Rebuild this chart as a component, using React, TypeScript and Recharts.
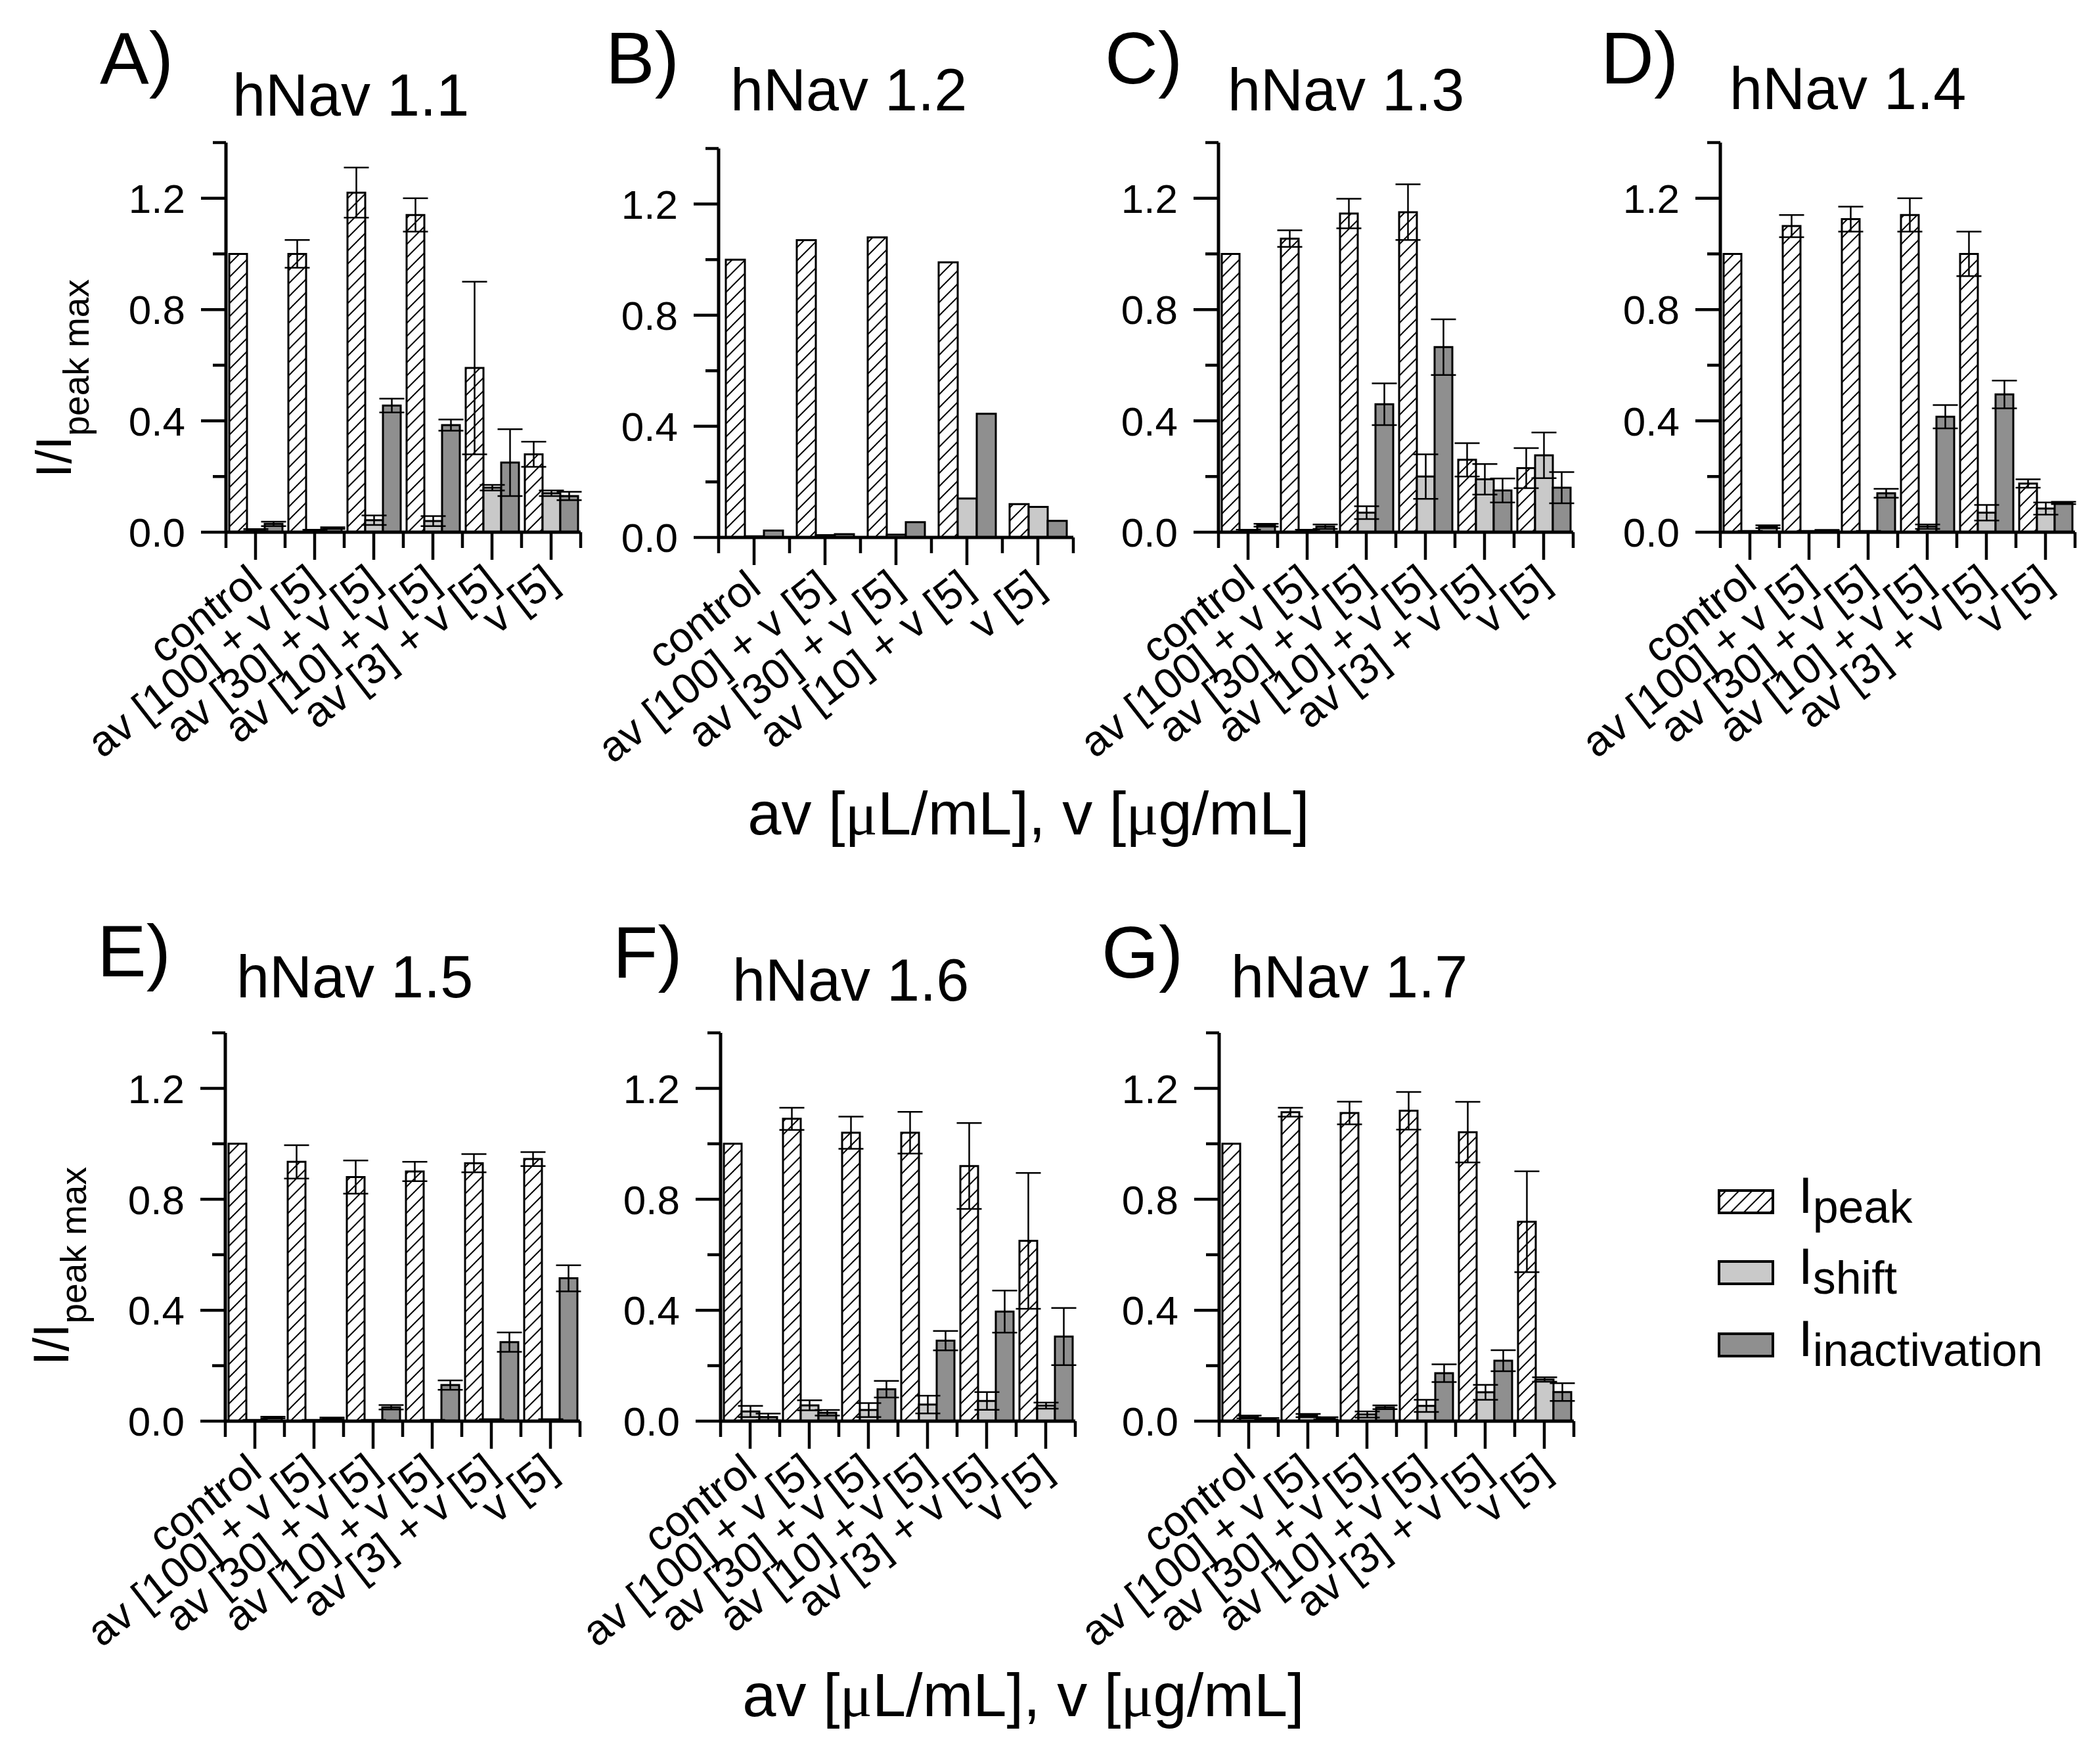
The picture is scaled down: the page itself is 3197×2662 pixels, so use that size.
import React from "react";
import { BarChart, Bar, XAxis, YAxis, ErrorBar } from "recharts";

const FONT = "'Liberation Sans', Arial, Helvetica, sans-serif";

// categories
const CATS6 = ["control", "av [100] + v [5]", "av [30] + v [5]", "av [10] + v [5]", "av [3] + v [5]", "v [5]"];
const CATS5 = ["control", "av [100] + v [5]", "av [30] + v [5]", "av [10] + v [5]", "v [5]"];
const Y_TICKS = [0, 0.2, 0.4, 0.6, 0.8, 1.0, 1.2, 1.4];

// hNav 1.1
const nav11Peak = [1.0, 1.0, 1.22, 1.14, 0.59, 0.28];
const nav11PeakErr = [0, 0.05, 0.09, 0.06, 0.31, 0.045];
const nav11Shift = [0.008, 0.006, 0.043, 0.04, 0.16, 0.14];
const nav11ShiftErr = [0.003, 0.003, 0.017, 0.018, 0.01, 0.01];
const nav11Inact = [0.03, 0.015, 0.455, 0.385, 0.25, 0.13];
const nav11InactErr = [0.008, 0.003, 0.025, 0.02, 0.12, 0.015];

// hNav 1.2 (no error bars)
const nav12Peak = [1.0, 1.07, 1.08, 0.99, 0.12];
const nav12Shift = [0.004, 0.008, 0.01, 0.14, 0.11];
const nav12Inact = [0.025, 0.012, 0.055, 0.445, 0.06];

// hNav 1.3
const nav13Peak = [1.0, 1.055, 1.145, 1.15, 0.26, 0.23];
const nav13PeakErr = [0, 0.03, 0.053, 0.1, 0.06, 0.072];
const nav13Shift = [0.005, 0.005, 0.07, 0.2, 0.19, 0.276];
const nav13ShiftErr = [0.004, 0.004, 0.023, 0.08, 0.055, 0.082];
const nav13Inact = [0.025, 0.02, 0.46, 0.665, 0.15, 0.16];
const nav13InactErr = [0.005, 0.008, 0.075, 0.1, 0.043, 0.056];

// hNav 1.4
const nav14Peak = [1.0, 1.1, 1.125, 1.14, 1.0, 0.175];
const nav14PeakErr = [0, 0.04, 0.045, 0.06, 0.08, 0.015];
const nav14Shift = [0.003, 0.003, 0.003, 0.02, 0.07, 0.085];
const nav14ShiftErr = [0.002, 0.002, 0.002, 0.008, 0.028, 0.022];
const nav14Inact = [0.02, 0.006, 0.14, 0.415, 0.495, 0.105];
const nav14InactErr = [0.005, 0.002, 0.016, 0.042, 0.05, 0.004];

// hNav 1.5
const nav15Peak = [1.0, 0.935, 0.88, 0.9, 0.93, 0.945];
const nav15PeakErr = [0, 0.06, 0.06, 0.035, 0.033, 0.025];
const nav15Shift = [0.003, 0.003, 0.003, 0.003, 0.005, 0.005];
const nav15ShiftErr = [0.002, 0.002, 0.002, 0.002, 0.002, 0.002];
const nav15Inact = [0.013, 0.01, 0.05, 0.13, 0.285, 0.515];
const nav15InactErr = [0.003, 0.003, 0.008, 0.017, 0.035, 0.047];

// hNav 1.6
const nav16Peak = [1.0, 1.09, 1.04, 1.04, 0.92, 0.65];
const nav16PeakErr = [0, 0.04, 0.058, 0.075, 0.155, 0.245];
const nav16Shift = [0.035, 0.057, 0.04, 0.06, 0.073, 0.056];
const nav16ShiftErr = [0.02, 0.018, 0.025, 0.032, 0.032, 0.011];
const nav16Inact = [0.015, 0.03, 0.115, 0.29, 0.395, 0.305];
const nav16InactErr = [0.012, 0.01, 0.03, 0.035, 0.076, 0.103];

// hNav 1.7
const nav17Peak = [1.0, 1.114, 1.111, 1.119, 1.042, 0.719];
const nav17PeakErr = [0, 0.016, 0.041, 0.068, 0.109, 0.182];
const nav17Shift = [0.015, 0.02, 0.024, 0.055, 0.104, 0.15];
const nav17ShiftErr = [0.005, 0.006, 0.011, 0.022, 0.027, 0.008];
const nav17Inact = [0.008, 0.01, 0.05, 0.173, 0.218, 0.105];
const nav17InactErr = [0.003, 0.004, 0.007, 0.032, 0.038, 0.032];

const LIGHT = "#c9c9c9";
const DARK = "#8f8f8f";

const YW = 320;
const MT = 10;
const XH = 440;
const MR = 20;

function Hatch({ id }: { id: string }) {
  return (
    <pattern id={id} patternUnits="userSpaceOnUse" width={20} height={20}>
      <rect x={0} y={0} width={20} height={20} fill="#fff" />
      <path d="M-5,5 L5,-5 M0,20 L20,0 M15,25 L25,15" stroke="#000" strokeWidth={2} />
    </pattern>
  );
}

function YTick(props: any) {
  const { x, y, payload } = props;
  const k = Math.round(payload.value * 10);
  const major = k % 4 === 0 && k <= 12;
  const len = major ? 38 : 20;
  return (
    <g>
      <line x1={x - len} y1={y} x2={x} y2={y} stroke="#000" strokeWidth={4.5} />
      {major && (
        <text x={x - 62} y={y} dy="0.36em" textAnchor="end" fontSize={62} fontFamily={FONT} fill="#000">
          {Number(payload.value).toFixed(1)}
        </text>
      )}
    </g>
  );
}

function XTick(props: any) {
  const { x, y, payload, band, count } = props;
  const index = payload && payload.index !== undefined ? payload.index : props.index;
  const px = x + 14;
  const py = y + 82;
  return (
    <g>
      <line x1={x} y1={y} x2={x} y2={y + 42} stroke="#000" strokeWidth={4.5} />
      <line x1={x - band / 2} y1={y} x2={x - band / 2} y2={y + 24} stroke="#000" strokeWidth={4.5} />
      {index === count - 1 && (
        <line x1={x + band / 2} y1={y} x2={x + band / 2} y2={y + 24} stroke="#000" strokeWidth={4.5} />
      )}
      <text
        x={px}
        y={py}
        textAnchor="end"
        fontSize={65}
        fontFamily={FONT}
        fill="#000"
        transform={`rotate(-38, ${px}, ${py})`}
      >
        {payload.value}
      </text>
    </g>
  );
}

type PanelProps = {
  id: string;
  cats: string[];
  peak: number[];
  peakErr?: number[];
  shift: number[];
  shiftErr?: number[];
  inact: number[];
  inactErr?: number[];
  left: number;
  top: number;
  plotW: number;
  plotH: number;
  barSize: number;
};

function Panel(p: PanelProps) {
  const n = p.cats.length;
  const band = p.plotW / n;
  const data = p.cats.map((c, i) => ({
    cat: c,
    peak: p.peak[i],
    peakErr: p.peakErr ? p.peakErr[i] : 0,
    shift: p.shift[i],
    shiftErr: p.shiftErr ? p.shiftErr[i] : 0,
    inact: p.inact[i],
    inactErr: p.inactErr ? p.inactErr[i] : 0,
  }));
  const hasErr = !!p.peakErr;
  const errProps = { width: 19, stroke: "#000", strokeWidth: 2.5, direction: "y" as const };
  return (
    <div style={{ position: "absolute", left: p.left - YW, top: p.top - MT }}>
      <BarChart
        width={YW + p.plotW + MR}
        height={MT + p.plotH + XH}
        data={data}
        margin={{ top: MT, right: MR, bottom: 0, left: 0 }}
        barGap={0}
      >
        <defs>
          <Hatch id={`hatch-${p.id}`} />
        </defs>
        <XAxis
          dataKey="cat"
          type="category"
          height={XH}
          interval={0}
          tickLine={false}
          tickSize={0}
          tickMargin={0}
          axisLine={{ stroke: "#000", strokeWidth: 5 }}
          tick={(tp: any) => <XTick {...tp} band={band} count={n} />}
        />
        <YAxis
          type="number"
          domain={[0, 1.4]}
          ticks={Y_TICKS}
          allowDataOverflow
          width={YW}
          interval={0}
          tickLine={false}
          tickSize={0}
          tickMargin={0}
          axisLine={{ stroke: "#000", strokeWidth: 5 }}
          tick={(tp: any) => <YTick {...tp} />}
        />
        <Bar dataKey="peak" fill={`url(#hatch-${p.id})`} stroke="#000" strokeWidth={3} barSize={p.barSize} isAnimationActive={false}>
          {hasErr && <ErrorBar dataKey="peakErr" {...errProps} />}
        </Bar>
        <Bar dataKey="shift" fill={LIGHT} stroke="#000" strokeWidth={3} barSize={p.barSize} isAnimationActive={false}>
          {hasErr && <ErrorBar dataKey="shiftErr" {...errProps} />}
        </Bar>
        <Bar dataKey="inact" fill={DARK} stroke="#000" strokeWidth={3} barSize={p.barSize} isAnimationActive={false}>
          {hasErr && <ErrorBar dataKey="inactErr" {...errProps} />}
        </Bar>
      </BarChart>
    </div>
  );
}

const PLOT_W = 540;

function YTitle({ x, y }: { x: number; y: number }) {
  return (
    <text x={x} y={y} textAnchor="middle" fontFamily={FONT} fill="#000" transform={`rotate(-90, ${x}, ${y})`}>
      <tspan fontSize={76}>I/I</tspan>
      <tspan fontSize={55} dy={27}>peak max</tspan>
    </text>
  );
}

function XTitle({ x, y }: { x: number; y: number }) {
  const serif = "'Liberation Serif', 'DejaVu Serif', serif";
  return (
    <text x={x} y={y} textAnchor="middle" fontFamily={FONT} fontSize={92} fill="#000">
      av [<tspan fontFamily={serif}>μ</tspan>L/mL], v [<tspan fontFamily={serif}>μ</tspan>g/mL]
    </text>
  );
}

export default function App() {
  const letters = [
    { t: "A)", x: 152, y: 127 },
    { t: "B)", x: 922, y: 127 },
    { t: "C)", x: 1682, y: 127 },
    { t: "D)", x: 2437, y: 127 },
    { t: "E)", x: 148, y: 1486 },
    { t: "F)", x: 933, y: 1488 },
    { t: "G)", x: 1677, y: 1488 },
  ];
  const titles = [
    { t: "hNav 1.1", x: 354, y: 176 },
    { t: "hNav 1.2", x: 1112, y: 168 },
    { t: "hNav 1.3", x: 1869, y: 168 },
    { t: "hNav 1.4", x: 2633, y: 166 },
    { t: "hNav 1.5", x: 360, y: 1518 },
    { t: "hNav 1.6", x: 1115, y: 1523 },
    { t: "hNav 1.7", x: 1874, y: 1518 },
  ];
  const legend = [
    { fill: "url(#hatch-legend)", sub: "peak", y: 1812 },
    { fill: LIGHT, sub: "shift", y: 1920 },
    { fill: DARK, sub: "inactivation", y: 2030 },
  ];
  return (
    <div style={{ position: "absolute", left: 0, top: 0, width: 3197, height: 2662, background: "#fff", overflow: "hidden" }}>
      <Panel id="a" cats={CATS6} peak={nav11Peak} peakErr={nav11PeakErr} shift={nav11Shift} shiftErr={nav11ShiftErr} inact={nav11Inact} inactErr={nav11InactErr} left={344} top={217} plotW={PLOT_W} plotH={593} barSize={27} />
      <Panel id="b" cats={CATS5} peak={nav12Peak} shift={nav12Shift} inact={nav12Inact} left={1094} top={226} plotW={PLOT_W} plotH={592} barSize={29} />
      <Panel id="c" cats={CATS6} peak={nav13Peak} peakErr={nav13PeakErr} shift={nav13Shift} shiftErr={nav13ShiftErr} inact={nav13Inact} inactErr={nav13InactErr} left={1855} top={217} plotW={PLOT_W} plotH={593} barSize={27} />
      <Panel id="d" cats={CATS6} peak={nav14Peak} peakErr={nav14PeakErr} shift={nav14Shift} shiftErr={nav14ShiftErr} inact={nav14Inact} inactErr={nav14InactErr} left={2619} top={217} plotW={PLOT_W} plotH={593} barSize={27} />
      <Panel id="e" cats={CATS6} peak={nav15Peak} peakErr={nav15PeakErr} shift={nav15Shift} shiftErr={nav15ShiftErr} inact={nav15Inact} inactErr={nav15InactErr} left={343} top={1572} plotW={PLOT_W} plotH={591} barSize={27} />
      <Panel id="f" cats={CATS6} peak={nav16Peak} peakErr={nav16PeakErr} shift={nav16Shift} shiftErr={nav16ShiftErr} inact={nav16Inact} inactErr={nav16InactErr} left={1097} top={1572} plotW={PLOT_W} plotH={591} barSize={27} />
      <Panel id="g" cats={CATS6} peak={nav17Peak} peakErr={nav17PeakErr} shift={nav17Shift} shiftErr={nav17ShiftErr} inact={nav17Inact} inactErr={nav17InactErr} left={1856} top={1572} plotW={PLOT_W} plotH={591} barSize={27} />

      <svg width={3197} height={2662} style={{ position: "absolute", left: 0, top: 0, pointerEvents: "none" }}>
        <defs>
          <Hatch id="hatch-legend" />
        </defs>
        {letters.map((l) => (
          <text key={l.t} x={l.x} y={l.y} fontSize={112} fontFamily={FONT} fill="#000">
            {l.t}
          </text>
        ))}
        {titles.map((t) => (
          <text key={t.t} x={t.x} y={t.y} fontSize={90} fontFamily={FONT} fill="#000">
            {t.t}
          </text>
        ))}
        <YTitle x={108} y={576} />
        <YTitle x={104} y={1927} />
        <XTitle x={1566} y={1270} />
        <XTitle x={1558} y={2612} />
        {legend.map((l) => (
          <g key={l.sub}>
            <rect x={2617} y={l.y} width={82} height={34} fill={l.fill} stroke="#000" strokeWidth={4} />
            <text x={2738} y={l.y + 34} fontFamily={FONT} fill="#000">
              <tspan fontSize={78}>I</tspan>
              <tspan fontSize={70} dy={15}>{l.sub}</tspan>
            </text>
          </g>
        ))}
      </svg>
    </div>
  );
}
